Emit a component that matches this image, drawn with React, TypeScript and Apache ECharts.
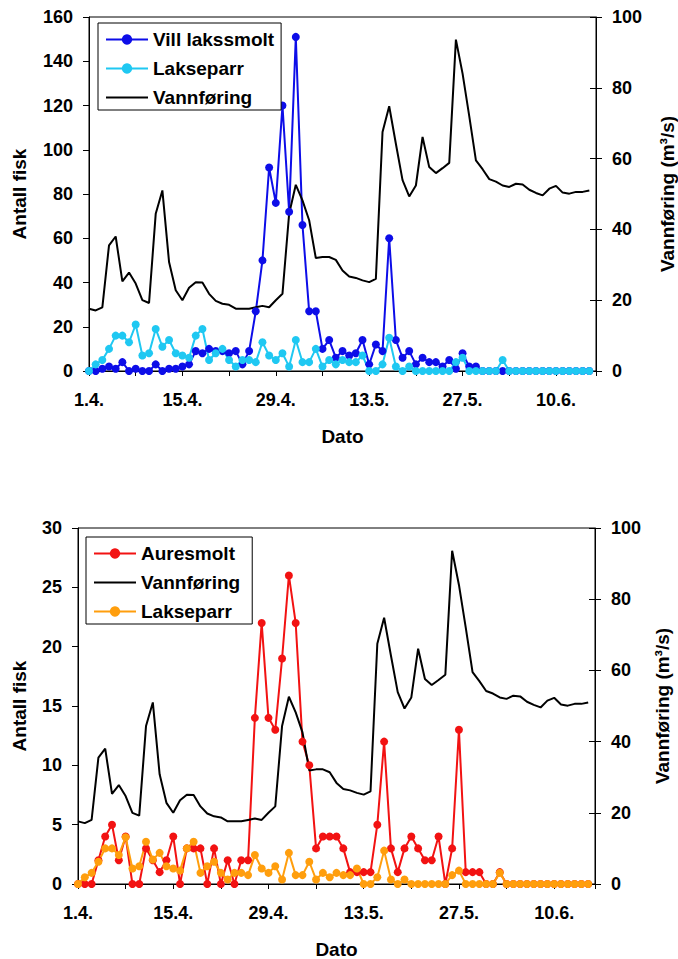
import React, { useEffect, useRef } from 'react';
import * as echarts from 'echarts';

// Day offsets from 1 April; a labelled tick every 14 days
const dateTickLabels = ['1.4.', '15.4.', '29.4.', '13.5.', '27.5.', '10.6.'];

// Daily water discharge (m³/s), 1.4.–15.6.
const vannforing = [
  17.6, 17.1, 18, 35.5, 38, 25.3, 27.8, 24.7, 20, 19.2,
  44.4, 51, 30.8, 22.8, 20, 23.5, 25.1, 25, 21.8, 19.8,
  19, 18.7, 17.6, 17.6, 17.6, 18, 18.4, 18, 20, 21.8,
  44.4, 52.6, 48.2, 42.6, 31.9, 32.2, 32.2, 31.4, 28.4, 26.7,
  26.3, 25.6, 25.1, 26, 67.5, 74.8, 64.2, 53.9, 49.3, 52.4,
  66.1, 57.6, 55.9, 57.3, 58.8, 93.6, 84, 72, 59.5, 57,
  54.2, 53.5, 52.4, 52, 52.9, 52.7, 51.2, 50.3, 49.6, 51.5,
  52.3, 50.4, 50.1, 50.6, 50.6, 51,
];

// Daily counts of wild salmon smolt
const villLakssmolt = [
  0, 0, 1, 2, 1, 4, 0, 1, 0, 0,
  3, 0, 1, 1, 2, 3, 9, 8, 10, 9,
  9, 8, 9, 3, 9, 27, 50, 92, 76, 120,
  72, 151, 66, 27, 27, 10, 14, 6, 9, 7,
  8, 14, 3, 12, 9, 60, 14, 6, 9, 3,
  6, 4, 4, 2, 5, 1, 8, 2, 2, 0,
  0, 0, 0, 0, 0, 0, 0, 0, 0, 0,
  0, 0, 0, 0, 0, 0,
];

// Daily counts of salmon parr
const lakseparr = [
  0, 3, 5, 10, 16, 16, 13, 21, 7, 8,
  19, 11, 14, 8, 7, 6, 16, 19, 5, 8,
  10, 5, 2, 5, 5, 4, 13, 7, 5, 8,
  2, 14, 4, 4, 10, 2, 5, 3, 5, 4,
  4, 7, 0, 0, 3, 15, 2, 0, 2, 0,
  0, 0, 0, 0, 0, 4, 6, 0, 0, 0,
  0, 0, 5, 0, 0, 0, 0, 0, 0, 0,
  0, 0, 0, 0, 0, 0,
];

// Daily counts of sea trout smolt
const auresmolt = [
  0, 0, 0, 2, 4, 5, 2, 4, 0, 0,
  3, 2, 1, 2, 4, 0, 3, 3, 3, 0,
  3, 0, 2, 0, 2, 2, 14, 22, 14, 13,
  19, 26, 22, 12, 10, 3, 4, 4, 4, 3,
  1, 1, 1, 1, 5, 12, 3, 1, 3, 4,
  3, 2, 2, 4, 0, 3, 13, 1, 1, 1,
  0, 0, 1, 0, 0, 0, 0, 0, 0, 0,
  0, 0, 0, 0, 0, 0,
];

const FONT = '"Liberation Sans", Arial, Helvetica, sans-serif';
const BLACK = '#000';

const byDay = (arr: number[]) => arr.map((v, i) => [i, v]);

const tickText = { color: BLACK, fontSize: 18, fontWeight: 'bold' as const, fontFamily: FONT };
const nameText = { color: BLACK, fontSize: 19, fontWeight: 'bold' as const, fontFamily: FONT };

function dateAxis() {
  return {
    type: 'value',
    min: 0,
    max: 76,
    interval: 7,
    name: 'Dato',
    nameLocation: 'middle',
    nameGap: 56,
    nameTextStyle: nameText,
    axisLine: { show: true, onZero: false, lineStyle: { color: BLACK, width: 1 } },
    axisTick: { show: true, length: 5, lineStyle: { color: BLACK, width: 1 } },
    axisLabel: {
      ...tickText,
      margin: 20,
      formatter: (v: number) => {
        const k = v / 14;
        return Number.isInteger(k) && k < dateTickLabels.length ? dateTickLabels[k] : '';
      },
    },
    splitLine: { show: false },
  };
}

function countAxis(max: number, interval: number, nameGap: number) {
  return {
    type: 'value',
    position: 'left',
    min: 0,
    max,
    interval,
    name: 'Antall fisk',
    nameLocation: 'middle',
    nameRotate: 90,
    nameGap,
    nameTextStyle: nameText,
    axisLine: { show: true, lineStyle: { color: BLACK, width: 1 } },
    axisTick: { show: true, length: 6, lineStyle: { color: BLACK, width: 1 } },
    axisLabel: { ...tickText, margin: 16 },
    splitLine: { show: false },
  };
}

function flowAxis(nameGap: number) {
  return {
    type: 'value',
    position: 'right',
    min: 0,
    max: 100,
    interval: 20,
    name: 'Vannføring (m³/s)',
    nameLocation: 'middle',
    nameRotate: 90,
    nameGap,
    nameTextStyle: nameText,
    axisLine: { show: true, lineStyle: { color: BLACK, width: 1 } },
    axisTick: { show: true, length: 6, lineStyle: { color: BLACK, width: 1 } },
    axisLabel: { ...tickText, margin: 16 },
    splitLine: { show: false },
  };
}

// inner half of the crossing tick marks on the discharge axis
function flowAxisInnerTicks() {
  return {
    type: 'value',
    position: 'right',
    min: 0,
    max: 100,
    interval: 20,
    axisLine: { show: false },
    axisTick: { show: true, inside: true, length: 6, lineStyle: { color: BLACK, width: 1 } },
    axisLabel: { show: false },
    splitLine: { show: false },
  };
}

function fishSeries(name: string, data: number[], color: string, yAxisIndex: number) {
  return {
    name,
    type: 'line',
    data: byDay(data),
    yAxisIndex,
    symbol: 'circle',
    symbolSize: 8,
    showSymbol: true,
    lineStyle: { color, width: 2 },
    itemStyle: { color },
  };
}

function flowSeries(yAxisIndex: number) {
  return {
    name: 'Vannføring',
    type: 'line',
    data: byDay(vannforing),
    yAxisIndex,
    symbol: 'none',
    lineStyle: { color: BLACK, width: 2 },
    itemStyle: { color: BLACK },
  };
}

function legend(names: string[], left: number, top: number, padRight: number) {
  return {
    // the discharge entry is drawn as a plain line, without a marker
    data: names.map((n) =>
      n === 'Vannføring' ? { name: n, itemStyle: { color: 'rgba(0,0,0,0)', borderWidth: 0, opacity: 0 } } : { name: n }
    ),
    orient: 'vertical',
    left,
    top,
    padding: [7, padRight, 3, 7],
    itemGap: 10,
    itemWidth: 42,
    itemHeight: 13,
    borderColor: BLACK,
    borderWidth: 1,
    borderRadius: 0,
    backgroundColor: '#fff',
    textStyle: { ...nameText },
    selectedMode: false,
  };
}

function plotGrid(left: number, top: number, width: number, height: number) {
  return {
    left,
    top,
    width,
    height,
    outerBoundsMode: 'none',
    containLabel: false,
    show: true,
    borderColor: BLACK,
    borderWidth: 1,
    backgroundColor: 'transparent',
  };
}

const salmonOption = {
  animation: false,
  backgroundColor: '#fff',
  grid: plotGrid(89, 17, 507, 354),
  legend: legend(['Vill lakssmolt', 'Lakseparr', 'Vannføring'], 98, 23, 7),
  xAxis: dateAxis(),
  yAxis: [countAxis(160, 20, 60), flowAxis(62), flowAxisInnerTicks()],
  series: [
    fishSeries('Vill lakssmolt', villLakssmolt, '#0d0de8', 0),
    fishSeries('Lakseparr', lakseparr, '#1fc8f2', 0),
    flowSeries(1),
  ],
};

const troutOption = {
  animation: false,
  backgroundColor: '#fff',
  grid: plotGrid(78, 48, 517, 356),
  legend: legend(['Auresmolt', 'Vannføring', 'Lakseparr'], 86, 57, 12),
  xAxis: dateAxis(),
  yAxis: [
    countAxis(30, 5, 49),
    flowAxis(58),
    flowAxisInnerTicks(),
    // parr counts share the proportions of the upper panel (0–160)
    { type: 'value', min: 0, max: 160, show: false, splitLine: { show: false } },
  ],
  series: [
    fishSeries('Auresmolt', auresmolt, '#f21212', 0),
    flowSeries(1),
    fishSeries('Lakseparr', lakseparr, '#ff9e0d', 3),
  ],
};

function Panel({ option, top, height }: { option: any; top: number; height: number }) {
  const ref = useRef<HTMLDivElement>(null);
  useEffect(() => {
    if (!ref.current) return;
    const chart = echarts.init(ref.current, undefined, { renderer: 'svg' });
    chart.setOption(option);
    return () => chart.dispose();
  }, [option]);
  return <div ref={ref} style={{ position: 'absolute', left: 0, top, width: 678, height }} />;
}

export default function App() {
  return (
    <div style={{ position: 'fixed', left: 0, top: 0, width: 678, height: 959, background: '#fff' }}>
      <Panel option={salmonOption} top={0} height={480} />
      <Panel option={troutOption} top={480} height={479} />
    </div>
  );
}
